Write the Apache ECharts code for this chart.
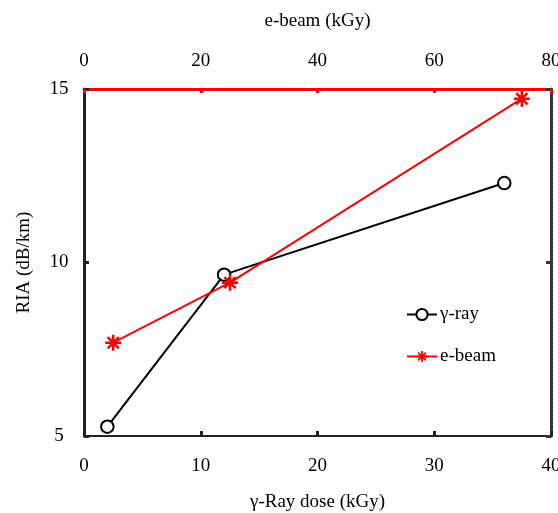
<!DOCTYPE html>
<html>
<head>
<meta charset="utf-8">
<script src="https://cdn.jsdelivr.net/npm/echarts@6/dist/echarts.min.js"></script>
<style>html,body{margin:0;padding:0;background:#fff;overflow:hidden;}#c{position:absolute;left:0;top:0;width:558px;height:513px;}</style>
</head>
<body>
<div id="c"></div>
<script>
// Data
const gammaDose = [2, 12, 36];
const gammaRIA = [5.27, 9.65, 12.29];
const ebeamDose = [5, 25, 75];
const ebeamRIA = [7.69, 9.42, 14.72];
const seriesNames = ['γ-ray', 'e-beam'];

const FONT = 'Liberation Serif';
const FS = 19;
const star = 'path://M0,4.2 L10,4.2 L10,5.8 L0,5.8 Z M4.2,0 L5.8,0 L5.8,10 L4.2,10 Z M0.95,2.05 L2.05,0.95 L9.05,7.95 L7.95,9.05 Z M7.95,0.95 L9.05,2.05 L2.05,9.05 L0.95,7.95 Z';

const chart = echarts.init(document.getElementById('c'), null, {renderer: 'canvas', width: 558, height: 513});
chart.setOption({
  animation: false,
  backgroundColor: '#fff',
  textStyle: {fontFamily: FONT, color: '#000'},
  grid: {left: 84, right: 7, top: 89, bottom: 77, containLabel: false, outerBoundsMode: 'none'},
  legend: {
    orient: 'vertical', left: 401, top: 300,
    itemWidth: 30, itemHeight: 14, itemGap: 23,
    textStyle: {fontFamily: FONT, fontSize: FS, color: '#000', padding: [0, 0, 0, -2]},
    data: seriesNames
  },
  xAxis: [
    {
      type: 'value', position: 'bottom', min: 0, max: 40, interval: 10,
      name: 'γ-Ray dose (kGy)', nameLocation: 'middle', nameGap: 57,
      nameTextStyle: {fontFamily: FONT, fontSize: FS, color: '#000'},
      axisLine: {show: true, onZero: false, lineStyle: {color: '#222', width: 2}},
      axisTick: {show: true, inside: true, length: 5, lineStyle: {color: '#222', width: 3}},
      axisLabel: {fontFamily: FONT, fontSize: FS, color: '#000', margin: 21},
      splitLine: {show: false}
    },
    {
      type: 'value', position: 'top', min: 0, max: 80, interval: 20,
      name: 'e-beam (kGy)', nameLocation: 'middle', nameGap: 58,
      nameTextStyle: {fontFamily: FONT, fontSize: FS, color: '#000'},
      axisLine: {show: true, onZero: false, lineStyle: {color: '#ff0000', width: 3}},
      axisTick: {show: true, inside: true, length: 4, lineStyle: {color: '#ff0000', width: 3}},
      axisLabel: {fontFamily: FONT, fontSize: FS, color: '#000', margin: 18},
      splitLine: {show: false}
    }
  ],
  yAxis: [
    {
      type: 'value', position: 'left', min: 5, max: 15, interval: 5,
      name: 'RIA (dB/km)', nameLocation: 'middle', nameGap: 50, nameRotate: 90,
      nameTextStyle: {fontFamily: FONT, fontSize: FS, color: '#000'},
      axisLine: {show: true, onZero: false, lineStyle: {color: '#222', width: 3}},
      axisTick: {show: true, inside: true, length: 5, lineStyle: {color: '#222', width: 3}},
      axisLabel: {fontFamily: FONT, fontSize: FS, color: '#000', margin: 25, align: 'center'},
      splitLine: {show: false}
    },
    {
      type: 'value', position: 'right', min: 5, max: 15, interval: 5,
      axisLine: {show: true, onZero: false, lineStyle: {color: '#333', width: 3, type: [3, 1]}},
      axisTick: {show: true, inside: true, length: 5, lineStyle: {color: '#333', width: 3}},
      axisLabel: {show: false},
      splitLine: {show: false}
    }
  ],
  series: [
    {
      name: seriesNames[0], type: 'line', xAxisIndex: 0, yAxisIndex: 0,
      data: gammaDose.map((x, i) => [x, gammaRIA[i]]),
      symbol: 'emptyCircle', symbolSize: 12.5,
      lineStyle: {color: '#000', width: 2},
      itemStyle: {color: '#000', borderColor: '#000', borderWidth: 2.5},
      z: 3
    },
    {
      name: seriesNames[1], type: 'line', xAxisIndex: 1, yAxisIndex: 0,
      data: ebeamDose.map((x, i) => [x, ebeamRIA[i]]),
      symbol: star, symbolSize: 16,
      lineStyle: {color: '#ff0000', width: 2},
      itemStyle: {color: '#ff0000', borderWidth: 0},
      z: 4
    }
  ]
});
</script>
</body>
</html>
